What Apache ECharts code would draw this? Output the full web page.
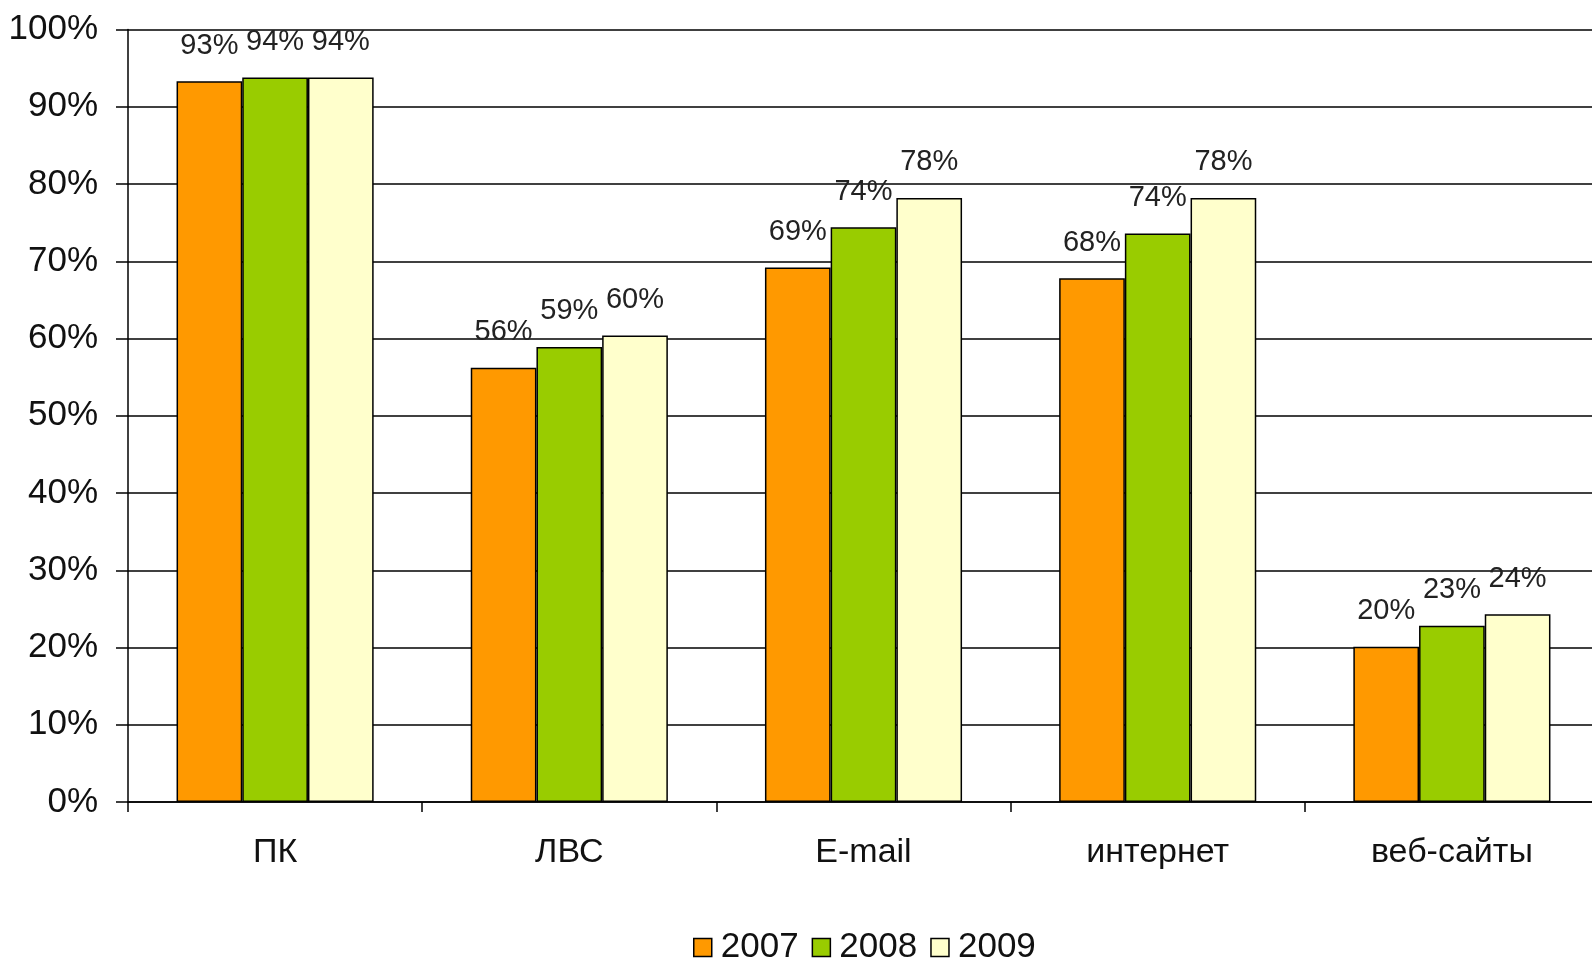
<!DOCTYPE html>
<html>
<head>
<meta charset="utf-8">
<script src="https://cdn.jsdelivr.net/npm/echarts@6/dist/echarts.min.js"></script>
<style>
html,body{margin:0;padding:0;background:#fff;overflow:hidden;}
#chart{width:1600px;height:962px;}
</style>
</head>
<body>
<div id="chart"></div>
<script>
var categories = ['ПК', 'ЛВС', 'E-mail', 'интернет', 'веб-сайты'];
var seriesNames = ['2007', '2008', '2009'];
var values2007 = [93.3, 56.2, 69.2, 67.8, 20.1];
var values2008 = [93.8, 58.9, 74.4, 73.6, 22.8];
var values2009 = [93.8, 60.4, 78.2, 78.2, 24.3];
var yMin = 0, yMax = 100, yStep = 10;

var colors = ['#FF9900', '#99CC00', '#FFFFCC'];
var font = 'Liberation Sans, Arial, sans-serif';

function makeSeries(name, data, color) {
  return {
    name: name,
    type: 'bar',
    data: data,
    barGap: '0%',
    barCategoryGap: '33%',
    itemStyle: { color: color, borderColor: '#000', borderWidth: 1.5 },
    label: {
      show: true,
      position: 'top',
      distance: 21,
      fontFamily: font,
      fontSize: 29,
      lineHeight: 29,
      color: '#222',
      formatter: function (p) { return Math.round(p.value) + '%'; }
    },
    emphasis: { disabled: true }
  };
}

var chart = echarts.init(document.getElementById('chart'), null, { renderer: 'canvas' });
chart.setOption({
  backgroundColor: '#ffffff',
  animation: false,
  color: colors,
  grid: { left: 128, top: 29.5, right: 1, bottom: 160, containLabel: false },
  legend: {
    data: seriesNames,
    top: 925,
    left: 688,
    itemWidth: 18,
    itemHeight: 18,
    itemGap: 13,
    icon: 'rect',
    textStyle: { fontFamily: font, fontSize: 35, color: '#111', padding: [0, 0, 0, 4] },
    itemStyle: { borderColor: '#000', borderWidth: 1.5 }
  },
  xAxis: {
    type: 'category',
    data: categories,
    axisLine: { lineStyle: { color: '#000', width: 1.5 } },
    axisTick: { show: true, length: 10, lineStyle: { color: '#000', width: 1.5 } },
    axisLabel: { fontFamily: font, fontSize: 34, color: '#111', margin: 34 },
    splitLine: { show: false }
  },
  yAxis: {
    type: 'value',
    min: yMin,
    max: yMax,
    interval: yStep,
    axisLine: { show: true, lineStyle: { color: '#000', width: 1.5 } },
    axisTick: { show: true, length: 12, lineStyle: { color: '#000', width: 1.5 } },
    axisLabel: { fontFamily: font, fontSize: 35, color: '#111', margin: 30, formatter: '{value}%' },
    splitLine: { show: true, lineStyle: { color: '#000', width: 1.5 } }
  },
  series: [
    makeSeries(seriesNames[0], values2007, colors[0]),
    makeSeries(seriesNames[1], values2008, colors[1]),
    makeSeries(seriesNames[2], values2009, colors[2])
  ]
});
</script>
</body>
</html>
